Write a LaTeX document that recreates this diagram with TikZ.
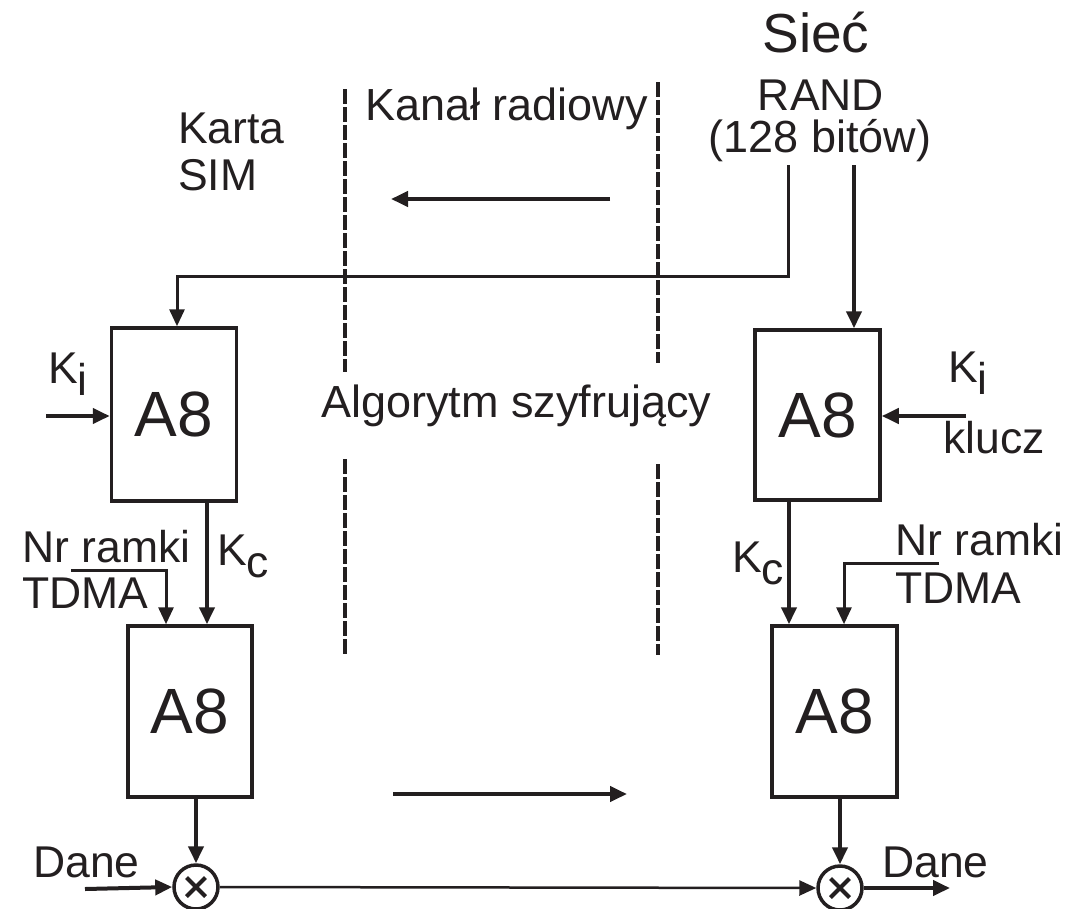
\documentclass[tikz,border=0pt]{standalone}
\usepackage{fontspec}
\setmainfont{Liberation Sans}
\usetikzlibrary{arrows.meta}
\definecolor{inkblack}{RGB}{35, 31, 32}

\newcommand{\lowsub}[1]{\raisebox{-0.28em}{#1}}

\begin{document}
\begin{tikzpicture}[
  x=1pt, y=-1pt,
  txt/.style={inner sep=0, anchor=base west, text=inkblack, font=\fontsize{44.5}{50}\selectfont},
  algbox/.style={rectangle, draw=inkblack, line width=3.5pt, minimum width=125pt,
    minimum height=171pt, inner sep=0, text=inkblack, font=\fontsize{64}{70}\selectfont},
  mixer/.style={circle, draw=inkblack, line width=3.5pt, minimum size=44pt, inner sep=0},
  arr/.style={-{Triangle[length=17pt, width=15pt]}, line width=4pt, color=inkblack},
  thinarr/.style={-{Triangle[length=17pt, width=15pt]}, line width=2.5pt, color=inkblack},
  chan/.style={line width=4.5pt, color=inkblack, dash pattern=on 15pt off 3pt}
]
  \useasboundingbox (0,0) rectangle (1065,908);

  % labels
  \node[txt, anchor=base, font=\fontsize{55}{60}\selectfont] (siec) at (816,52) {Sieć};
  \node[txt, anchor=base] (rand) at (821,110) {RAND};
  \node[txt, anchor=base, font=\fontsize{45}{50}\selectfont] (bits) at (820,152) {(128 bitów)};
  \node[txt] (karta) at (178,143) {Karta};
  \node[txt] (sim) at (178,190) {SIM};
  \node[txt, font=\fontsize{45}{50}\selectfont] (kanal) at (365,120) {Kanał radiowy};
  \node[txt, font=\fontsize{45}{50}\selectfont] (alg) at (321,417) {Algorytm szyfrujący};

  % A8 blocks
  \node[algbox, minimum height=173pt] (simA) at (174,414.5) {A8};
  \node[algbox, minimum height=170pt] (netA) at (817.5,415) {A8};
  \node[algbox, minimum width=124pt] (simB) at (190,711.5) {A8};
  \node[algbox] (netB) at (834.5,711.5) {A8};
  \node[mixer] (mixL) at (196,887) {};
  \node[mixer] (mixR) at (840,888) {};
  \draw[line width=4pt, color=inkblack] (mixL.center) ++(-9.5,-9.5) -- ++(19,19)
    (mixL.center) ++(-9.5,9.5) -- ++(19,-19);
  \draw[line width=4pt, color=inkblack] (mixR.center) ++(-9.5,-9.5) -- ++(19,19)
    (mixR.center) ++(-9.5,9.5) -- ++(19,-19);

  % key and frame labels
  \node[txt] (kiL) at (48,383) {K\lowsub{i}};
  \node[txt] (kiR) at (948,382) {K\lowsub{i}};
  \node[txt] (klucz) at (943,453) {klucz};
  \node[txt] (kcL) at (217,565) {K\lowsub{c}};
  \node[txt] (kcR) at (732,572) {K\lowsub{c}};
  \node[txt] (nrL) at (22,562) {Nr ramki};
  \node[txt] (tdmaL) at (22,608) {TDMA};
  \node[txt] (nrR) at (895,555) {Nr ramki};
  \node[txt] (tdmaR) at (895,603) {TDMA};
  \node[txt] (daneL) at (33,877) {Dane};
  \node[txt] (daneR) at (882,877) {Dane};

  % radio channel borders
  \draw[chan] (345,89) -- (345,372);
  \draw[chan] (345,459) -- (345,655);
  \draw[chan] (658,82) -- (658,363);
  \draw[chan] (658,464) -- (658,655);

  \coordinate (upR) at (610,199);
  \coordinate (upL) at (391,199);
  \coordinate (dnL) at (393,794);
  \coordinate (dnR) at (627,794);
  \draw[arr] (upR) -- (upL);
  \draw[arr] (dnL) -- (dnR);

  % RAND
  \coordinate (randL) at (788,165);
  \coordinate (randR) at (854,165);
  \draw[arr, line width=3pt] (randL) -- ++(0,111) -| ([xshift=3pt]simA.north);
  \draw[arr] (randR) -- (randR |- netA.north);

  % keys
  \coordinate (kiInL) at (46,416);
  \coordinate (kiInR) at (966,416);
  \draw[arr] (kiInL) -- (kiInL -| simA.west);
  \draw[arr] (kiInR) -- (kiInR -| netA.east);
  \draw[arr] ([xshift=33pt]simA.south) -- ([xshift=33pt]simA.south |- simB.north);
  \draw[arr] ([xshift=-28.5pt]netA.south) -- ([xshift=-28.5pt]netA.south |- netB.north);

  % frame numbers
  \coordinate (nrInL) at (71,570);
  \coordinate (nrInR) at (939,563);
  \draw[arr, line width=3pt] (nrInL) -| ([xshift=-24pt]simB.north);
  \draw[arr, line width=3pt] (nrInR) -| ([xshift=9.5pt]netB.north);

  % data path
  \coordinate (daneIn) at (85,889);
  \coordinate (daneOut) at (950,888);
  \draw[arr] (mixL |- simB.south) -- (mixL.north);
  \draw[arr] (mixR |- netB.south) -- (mixR.north);
  \draw[arr] (daneIn) -- (mixL.west);
  \draw[thinarr] (mixL.east) -- (mixR.west);
  \draw[arr] (mixR.east) -- (daneOut);
\end{tikzpicture}
\end{document}
